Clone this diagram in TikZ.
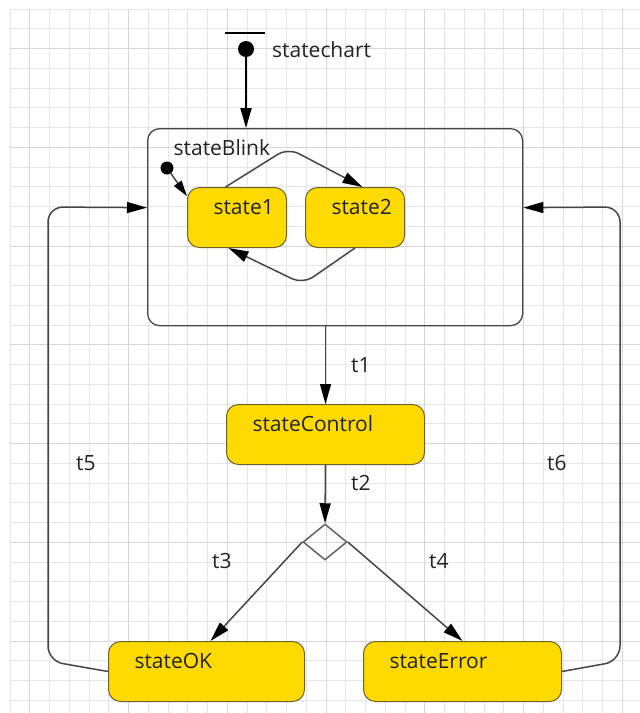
\documentclass[tikz,border=0pt]{standalone}
\usepackage{fontspec}
\setmainfont{Open Sans}
\usetikzlibrary{shapes.geometric,arrows.meta}
\definecolor{stfill}{RGB}{255,218,0}
\definecolor{stdraw}{RGB}{110,100,40}
\definecolor{lineg}{RGB}{70,70,70}
\definecolor{gridminor}{RGB}{230,230,230}
\definecolor{gridmajor}{RGB}{214,214,214}
\definecolor{txt}{RGB}{35,35,35}
\begin{document}
\begin{tikzpicture}[x=1pt,y=-1pt,
  font=\fontsize{21}{25}\selectfont,
  textbox/.style={text height=16pt, text depth=22pt, inner xsep=26pt, inner ysep=11pt, align=left, anchor=north west, text=txt},
  stbox/.style={textbox, rectangle, rounded corners=12pt, fill=stfill, draw=stdraw, line width=1pt},
  arr/.style={draw=lineg, line width=1.5pt, -{Triangle[length=20pt,width=11pt,color=black]}},
  arrsmall/.style={draw=lineg, line width=1.5pt, -{Triangle[length=16pt,width=9pt,color=black]}},
  lbl/.style={anchor=base west, inner sep=0pt, text=txt}
]
\useasboundingbox (0,0) rectangle (640,713);
\fill[white] (0,0) rectangle (640,713);
% grid
\foreach \i in {0,...,31} {\draw[gridminor, line width=1pt] ({10+19.75*\i},9) -- ({10+19.75*\i},713);}
\foreach \j in {0,...,35} {\draw[gridminor, line width=1pt] (10,{9+19.75*\j}) -- (640,{9+19.75*\j});}
\foreach \i in {1,6,...,31} {\draw[gridmajor, line width=1pt] ({10+19.75*\i},9) -- ({10+19.75*\i},713);}
\foreach \j in {2,7,...,35} {\draw[gridmajor, line width=1pt] (10,{9+19.75*\j}) -- (640,{9+19.75*\j});}

% composite state
\node[textbox, rectangle, rounded corners=12pt, draw=lineg, line width=1.3pt, text width=323pt, text depth=159pt] (blink) at (147,128) {stateBlink};

% states
\node[stbox, text width=47pt] (s1) at (187,187) {state1};
\node[stbox, text width=47pt] (s2) at (305,187) {state2};
\node[stbox, text width=146pt] (ctrl) at (226,404) {stateControl};
\node[stbox, text width=144pt] (ok) at (108,641) {stateOK};
\node[stbox, text width=146pt] (err) at (363,641) {stateError};

% initial pseudostates
\node[rectangle, fill=black, minimum width=40pt, minimum height=2.5pt, inner sep=0pt] (bar) at (245,33) {};
\node[circle, fill=black, minimum size=16pt, inner sep=0pt] (init) at (246,49) {};
\node[lbl] (chartlbl) at (272,57) {statechart};
\node[circle, fill=black, minimum size=13pt, inner sep=0pt] (init2) at (167,168) {};

% choice
\node[diamond, draw=lineg!85, line width=1.5pt, minimum width=44pt, minimum height=36pt, inner sep=0pt] (dia) at (325,542) {};

% connectors
\draw[line width=2pt, -{Triangle[length=20pt,width=11pt]}] (init) -- (init |- blink.north);
\draw[arrsmall] (init2) -- (s1.157);
\draw[arr, rounded corners=12pt] ([xshift=-11.5pt]s1.north) -- (288,148) -- ([xshift=7.5pt]s2.north);
\draw[arr, rounded corners=12pt] (s2.south) -- (303,284) -- ([xshift=-8.5pt]s1.south);
\draw[arr] (ctrl |- blink.south) -- (ctrl.north);
\draw[arr] (ctrl.south) -- (dia.north);
\draw[arr] (dia.west) -- ([xshift=4pt]ok.north);
\draw[arr] (dia.east) -- (err.north);
\draw[arr, rounded corners=15pt] (ok.west) -- (48,661) -- (48,207) -- ([yshift=19.5pt]blink.west);
\draw[arr, rounded corners=15pt] (err.east) -- (620,661) -- (620,207) -- ([yshift=19.5pt]blink.east);

% labels
\node[lbl] (t1) at (351,372) {t1};
\node[lbl] (t2) at (351,490) {t2};
\node[lbl] (t3) at (212,568) {t3};
\node[lbl] (t4) at (429,568) {t4};
\node[lbl] (t5) at (76,470) {t5};
\node[lbl] (t6) at (547,470) {t6};
\end{tikzpicture}
\end{document}
